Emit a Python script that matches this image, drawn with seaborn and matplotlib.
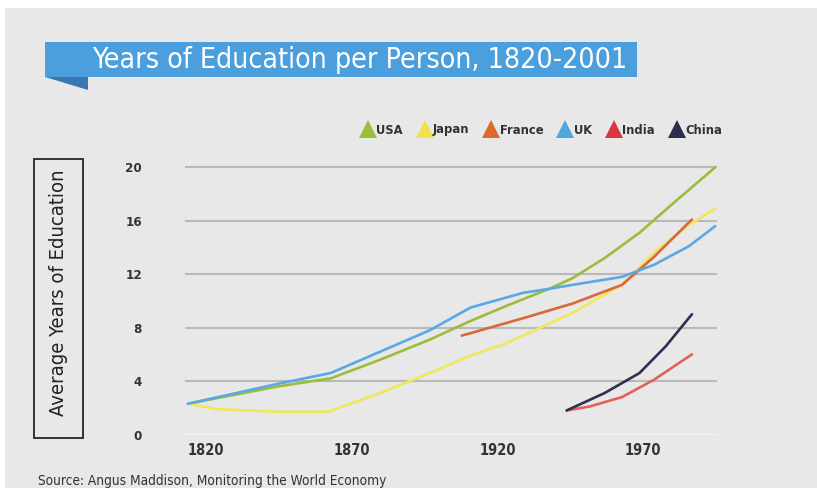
import matplotlib
matplotlib.use("Agg")
import matplotlib.pyplot as plt
import seaborn as sns
import pandas as pd
from matplotlib.patches import Rectangle, Polygon
from matplotlib.lines import Line2D

# ---- data ----
usa_years = [1820, 1851, 1869, 1886, 1903, 1916, 1929, 1944, 1952, 1963, 1975, 1986, 2001]
usa_vals  = [2.3, 3.6, 4.2, 5.6, 7.1, 8.4, 9.6, 10.9, 11.7, 13.2, 15.1, 17.2, 20.0]

japan_years = [1820, 1830, 1851, 1868, 1886, 1903, 1917, 1929, 1952, 1969, 1980, 1992, 2001]
japan_vals  = [2.3, 1.9, 1.7, 1.7, 3.1, 4.6, 5.9, 6.8, 9.1, 11.2, 13.6, 15.7, 16.9]

france_years = [1914, 1935, 1952, 1969, 1980, 1993]
france_vals  = [7.4, 8.7, 9.8, 11.2, 13.3, 16.1]

uk_years = [1820, 1851, 1869, 1886, 1903, 1917, 1935, 1944, 1952, 1969, 1980, 1992, 2001]
uk_vals  = [2.3, 3.8, 4.6, 6.2, 7.8, 9.5, 10.6, 10.9, 11.2, 11.8, 12.7, 14.1, 15.6]

india_years = [1950, 1958, 1969, 1980, 1993]
india_vals  = [1.8, 2.1, 2.8, 4.1, 6.0]

china_years = [1950, 1963, 1975, 1984, 1993]
china_vals  = [1.8, 3.1, 4.6, 6.6, 9.0]

countries = ["USA", "Japan", "France", "UK", "India", "China"]
legend_colors = ["#9bbd3a", "#efe24a", "#dc6a2e", "#4da8e0", "#d8383f", "#2d2d4d"]
line_colors   = ["#9bbd3a", "#f0e75a", "#d9683a", "#5aa8e4", "#e0625c", "#2d3050"]

y_ticks = [0, 4, 8, 12, 16, 20]
x_ticks = [1820, 1870, 1920, 1970]

title = "Years of Education per Person, 1820-2001"
ylabel = "Average Years of Education"
source = "Source: Angus Maddison, Monitoring the World Economy"

series = {
    "USA": (usa_years, usa_vals),
    "Japan": (japan_years, japan_vals),
    "France": (france_years, france_vals),
    "UK": (uk_years, uk_vals),
    "India": (india_years, india_vals),
    "China": (china_years, china_vals),
}
rows = []
for name, (yrs, vals) in series.items():
    for yr, v in zip(yrs, vals):
        rows.append({"Year": yr, "Years": v, "Country": name})
df = pd.DataFrame(rows)

# ---- figure ----
sns.set_style("white")
plt.rcParams["font.family"] = ["DejaVu Sans"]
plt.rcParams["font.stretch"] = "condensed"

W, H = 817, 488
fig = plt.figure(figsize=(W / 100, H / 100), dpi=100, facecolor="white")

def fx(px):
    return px / W

def fy(py):
    return 1 - py / H

BG = "#e9e8e9"
fig.patches.append(Rectangle((fx(5), 0), 1, fy(8), transform=fig.transFigure,
                             facecolor=BG, edgecolor="none", zorder=-5))

ax = fig.add_axes([fx(185), fy(434.5), fx(717) - fx(185), fy(160.6) - fy(434.5)])
ax.set_zorder(5)
ax.set_facecolor("none")

sns.lineplot(data=df, x="Year", y="Years", hue="Country", hue_order=countries,
             palette=dict(zip(countries, line_colors)), linewidth=1.9,
             legend=False, ax=ax, estimator=None, sort=True)
for ln in ax.lines:
    ln.set_clip_on(False)
    ln.set_zorder(3)
    ln.set_solid_capstyle("round")
    ln.set_solid_joinstyle("round")

ax.set_xlim(1819, 2001.6)
ax.set_ylim(0, 20.5)
ax.set_yticks(y_ticks)
ax.set_yticklabels([str(t) for t in y_ticks])
ax.set_xticks(x_ticks)
ax.set_xticklabels([str(t) for t in x_ticks])
for lab in ax.get_xticklabels():
    lab.set_horizontalalignment("left")
ax.tick_params(axis="y", length=0, pad=31, labelsize=9.5, labelcolor="#333333")
ax.tick_params(axis="x", length=0, pad=6, labelsize=10.5, labelcolor="#333333")
for lab in ax.get_xticklabels() + ax.get_yticklabels():
    lab.set_fontweight("bold")
ax.grid(axis="y", color="#b9b9b9", linewidth=1.5)
ax.grid(axis="x", visible=False)
ax.get_ygridlines()[0].set_color("#f4f4f4")
for s in ax.spines.values():
    s.set_visible(False)
ax.set_xlabel("")
ax.set_ylabel("")

# ---- title banner ----
BLUE = "#4a9fdc"
fig.patches.append(Polygon([(fx(45), fy(77)), (fx(88), fy(77)), (fx(88), fy(90))],
                           closed=True, transform=fig.transFigure,
                           facecolor="#3a78b0", edgecolor="none", zorder=1))
fig.patches.append(Rectangle((fx(45), fy(77)), fx(637) - fx(45), fy(42) - fy(77),
                             transform=fig.transFigure, facecolor=BLUE,
                             edgecolor="none", zorder=2))
fig.text(fx(92), fy(60), title, color="white", fontsize=20.4, ha="left",
         va="center", zorder=3)

# ---- legend ----
handles = [Line2D([], [], marker="^", linestyle="", color=c, markersize=13,
                  markeredgewidth=0) for c in legend_colors]
leg = fig.legend(handles, countries, loc="center",
                 bbox_to_anchor=(fx(541), fy(130)), ncol=6, frameon=False,
                 handletextpad=0.05, columnspacing=1.1, handlelength=1.2,
                 prop={"size": 9.3, "weight": "bold", "stretch": "condensed"})
for t in leg.get_texts():
    t.set_color("#333333")

# ---- y label with box ----
fig.patches.append(Rectangle((fx(34), fy(438)), fx(83) - fx(34), fy(159) - fy(438),
                             transform=fig.transFigure, facecolor="none",
                             edgecolor="#333333", linewidth=1.4, zorder=2))
fig.text(fx(58.5), fy(293), ylabel, rotation=90, fontsize=14.5, color="#222222",
         ha="center", va="center")

# ---- source ----
fig.text(fx(38), fy(481), source, fontsize=9.8, color="#333333", ha="left",
         va="center")

fig.savefig("out.png", dpi=100, facecolor="white")
